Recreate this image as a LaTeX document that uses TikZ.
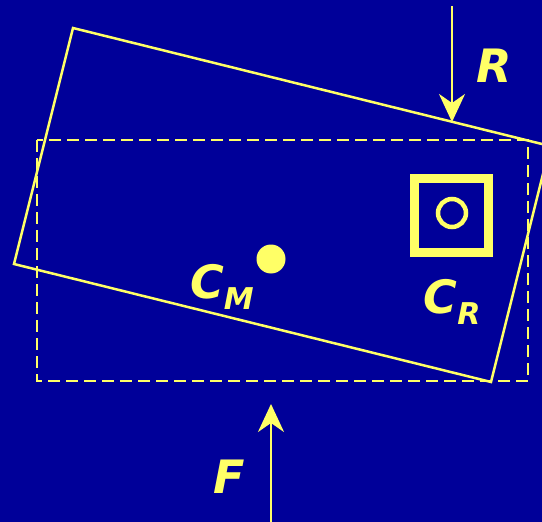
\documentclass[tikz,border=0pt]{standalone}
\usepackage{fontspec}
\setmainfont{DejaVu Sans}
\usetikzlibrary{arrows.meta}
\definecolor{slidebg}{RGB}{0,0,153}
\definecolor{chalk}{RGB}{255,255,102}
\newcommand\lowsub[1]{\raisebox{-0.45ex}{\fontsize{30}{30}\selectfont #1}}

\begin{document}
\begin{tikzpicture}[x=1pt, y=-1pt,
    every node/.style={font=\fontsize{46}{46}\selectfont\bfseries\itshape, text=chalk},
    edge line/.style={chalk, line width=2.5pt},
    force/.style={chalk, line width=2.5pt, -{Stealth[length=28pt,width=26pt,inset=9pt]}}]
  \fill[slidebg] (0,0) rectangle (542,522);
  \useasboundingbox (0,0) rectangle (542,522);
  % rest position
  \draw[edge line, dash pattern=on 12pt off 6pt] (37,140) rectangle (528,381);
  % tilted body
  \draw[edge line, line join=miter] (73,28) -- (550,146) -- (491,382) -- (14,264) -- cycle;
  % centre of mass
  \node[circle, fill=chalk, minimum size=29pt, inner sep=0pt] (cm) at (271,259) {};
  \node (cmlabel) at (222,287) {C\lowsub{M}};
  % centre of rotation
  \node[draw=chalk, line width=9pt, minimum size=74pt, inner sep=0pt] (cr) at (451.5,215) {};
  \node[circle, draw=chalk, line width=4.5pt, minimum size=28pt, inner sep=0pt] (crdot) at (452,213) {};
  \node (crlabel) at (452,302) {C\lowsub{R}};
  % forces
  \coordinate (rtail) at (452,6);
  \coordinate (rtip) at (452,122);
  \draw[force] (rtail) -- (rtip);
  \node (rlabel) at (494,66) {R};
  \coordinate (ftail) at (271,522);
  \coordinate (ftip) at (271,404);
  \draw[force] (ftail) -- (ftip);
  \node (flabel) at (229,477) {F};
\end{tikzpicture}
\end{document}
